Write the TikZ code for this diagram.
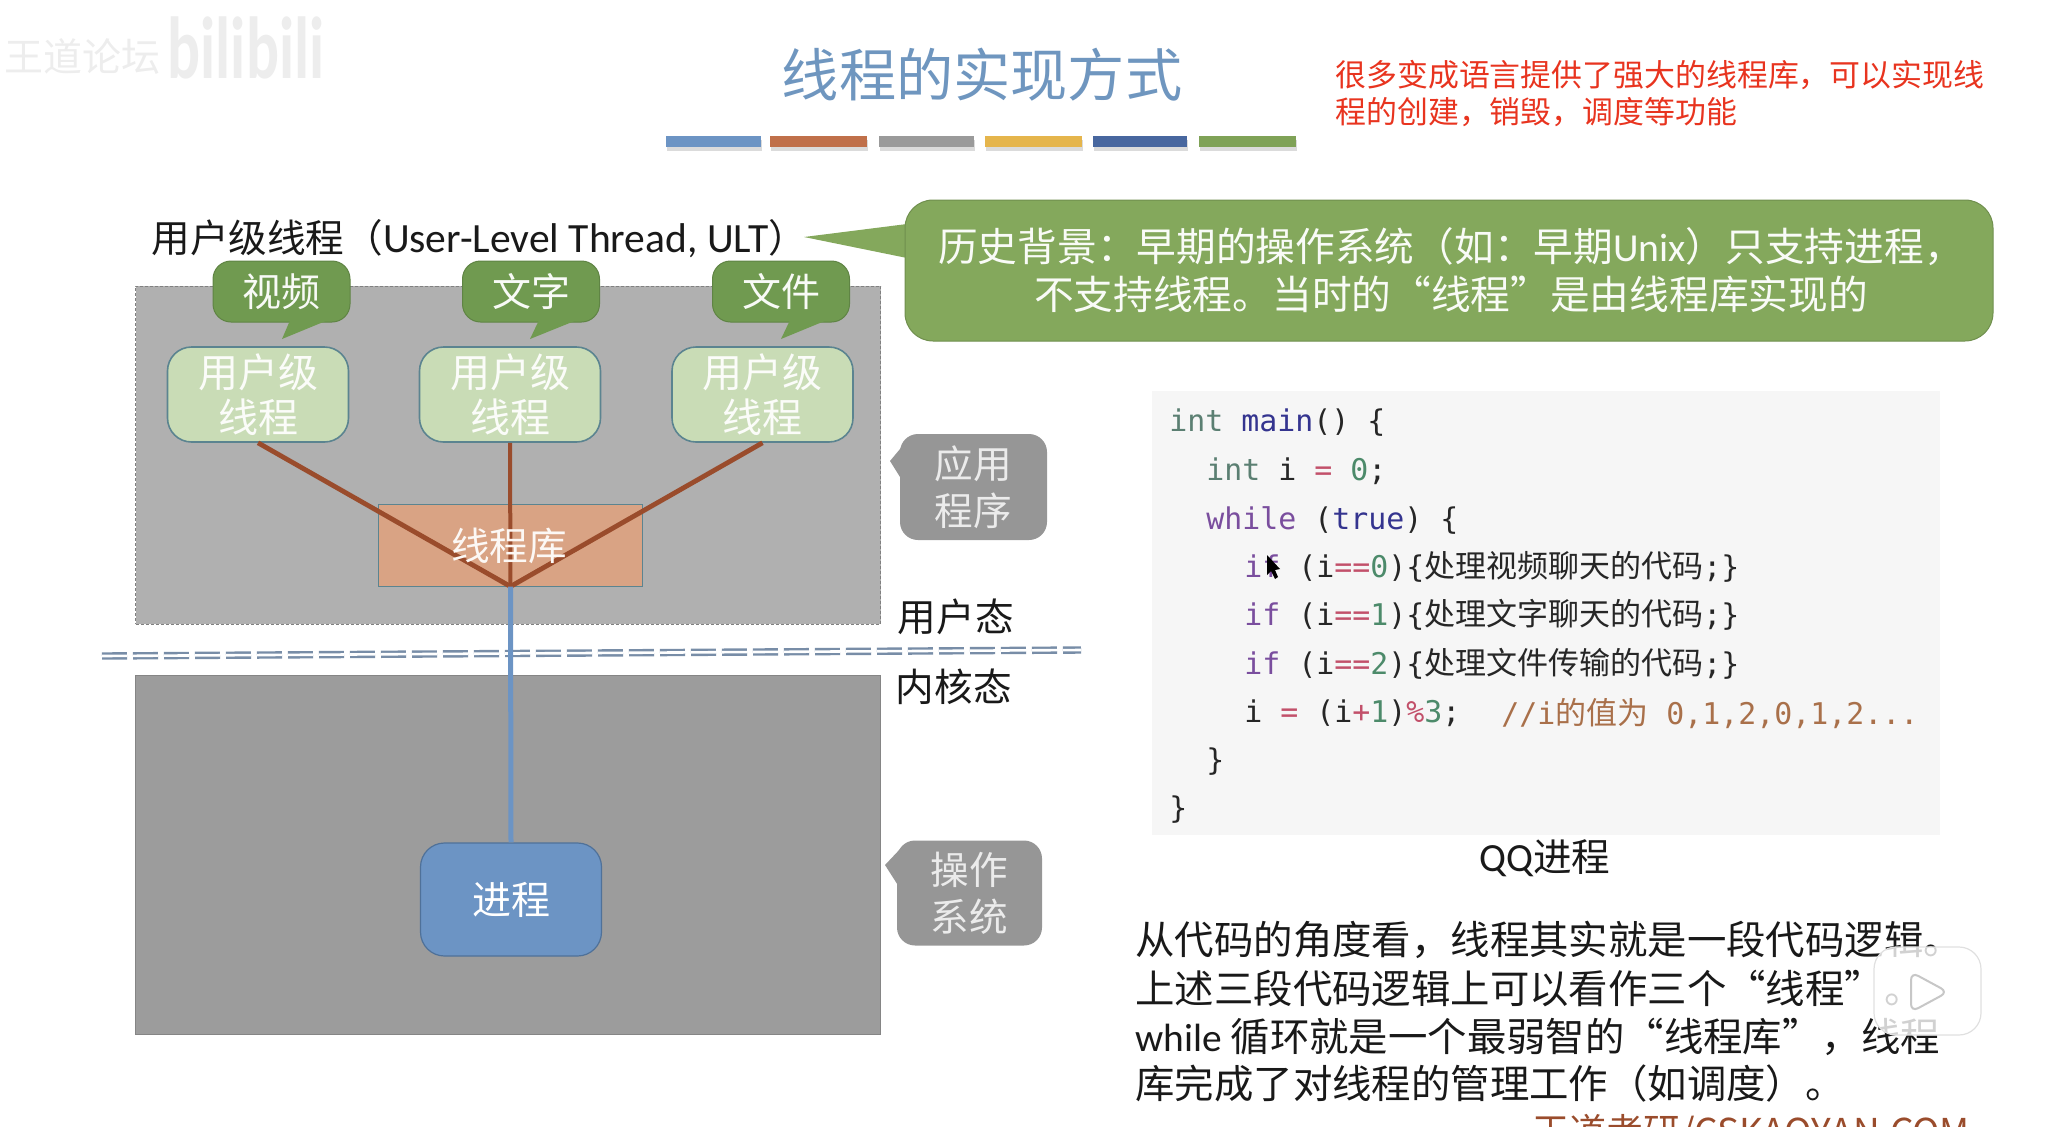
\documentclass[tikz,border=0pt]{standalone}
\usepackage{fontspec}
\usepackage{xcolor}
\setmainfont{Noto Sans CJK SC}
\newfontfamily\latfont{Carlito}
\newfontfamily\codefont{DejaVu Sans Mono}
\newfontfamily\zhfont{Noto Sans CJK SC}
\newcommand{\lat}[1]{{\latfont #1}}
\newcommand{\zh}[1]{{\zhfont\fontsize{15.5}{17}\selectfont #1}}
\definecolor{titleblue}{HTML}{6F96BF}
\definecolor{notered}{HTML}{E8341F}
\definecolor{tagfill}{HTML}{709A50}
\definecolor{tagedge}{HTML}{5F8444}
\definecolor{histfill}{HTML}{84A85C}
\definecolor{ultfill}{HTML}{C9DCB6}
\definecolor{ultedge}{HTML}{5B8490}
\definecolor{libfill}{HTML}{D9A384}
\definecolor{linkbrown}{HTML}{9A4C2C}
\definecolor{linkblue}{HTML}{6C94C4}
\definecolor{procedge}{HTML}{4F7199}
\definecolor{codepurple}{HTML}{7A4E9E}
\definecolor{codeblue}{HTML}{34348F}
\definecolor{codegreen}{HTML}{4C8A6A}
\definecolor{codered}{HTML}{C2506A}
\definecolor{codebrown}{HTML}{A9704A}
\definecolor{codetype}{HTML}{5B7F72}
\newcommand{\kw}[1]{\textcolor{codepurple}{#1}}
\newcommand{\ty}[1]{\textcolor{codetype}{#1}}
\newcommand{\nm}[1]{\textcolor{codegreen}{#1}}
\newcommand{\op}[1]{\textcolor{codered}{#1}}
\tikzset{
  ultbox/.style={draw=ultedge, line width=0.8pt, fill=ultfill, rounded corners=12pt, inner sep=0pt,
    minimum width=90.5pt, minimum height=47.5pt, align=center, text=white!92!ultfill,
    font=\fontsize{20}{22.3}\selectfont},
  tagbox/.style={draw=tagedge, line width=0.5pt, fill=tagfill, rounded corners=9pt, inner sep=0pt,
    minimum width=68.5pt, minimum height=30.5pt, text=white!95!tagfill,
    font=\fontsize{19.5}{22}\selectfont},
  greybox/.style={fill=black!41, rounded corners=9pt, inner sep=0pt, align=center,
    text=white!92!black, font=\fontsize{19.3}{23.5}\selectfont},
  plaintext/.style={inner sep=0pt, text=black!90, font=\fontsize{19.3}{23}\selectfont},
  codeline/.style={anchor=west, inner sep=0pt, text=black!85, font=\codefont\fontsize{14.95}{17}\selectfont},
  paraline/.style={anchor=west, inner sep=0pt, text=black!90, font=\fontsize{19.7}{23}\selectfont},
  linkline/.style={linkbrown, line width=2.4pt},
  sepline/.style={draw=black!30!linkblue!75, double=white, line width=1.2pt, double distance=1.3pt, dash pattern=on 12.5pt off 3pt}
}
\begin{document}
\begin{tikzpicture}[x=0.5pt, y=-0.5pt]
        \useasboundingbox (0,0) rectangle (2046,1126);
        \clip (0,0) rectangle (2046,1126);

        % Faint marks in the top corner
        \node[inner sep=0pt, text=black!7, font=\fontsize{19.5}{22}\selectfont] (forum) at (82,57) {王道论坛};
        \node[inner sep=0pt, text=black!7, font=\latfont\bfseries\fontsize{44}{44}\selectfont] (site) at (246,48) {\scalebox{0.7}[1]{bilibili}};

        % Title and the colour bars under it
        \node[inner sep=0pt, text=titleblue, font=\fontsize{28.6}{32}\selectfont] (title) at (982,75) {线程的实现方式};
        \foreach \xa/\xb/\barcol in {666/761/6C94C4, 770/867/C0704A, 879/974/9A9A9A, 985/1082/E5B54C, 1093/1187/48679F, 1199/1296/7FA257} {
            \definecolor{barcol}{HTML}{\barcol}
            \fill[black!14] (\xa+1,140) rectangle (\xb+1,151);
            \fill[barcol] (\xa,136) rectangle (\xb,147);
        }

        % Red remark
        \node[anchor=west, inner sep=0pt, align=left, text=notered, font=\fontsize{15.45}{18.5}\selectfont] (remark) at (1335,93.5)
            {很多变成语言提供了强大的线程库，可以实现线\\程的创建，销毁，调度等功能};

        % History callout
        \fill[histfill] (907,224) -- (804,237) -- (907,258) -- cycle;
        \node[fill=histfill, draw=histfill!85!black, line width=0.5pt, rounded corners=14pt, minimum width=544pt, minimum height=70.5pt,
            inner sep=0pt, align=center, text=white!95!histfill, font=\fontsize{19.85}{24}\selectfont] (history) at (1449,270.5)
            {\hspace*{2pt}历史背景：早期的操作系统（如：早期\lat{Unix}）只支持进程，\\\hspace*{2pt}不支持线程。当时的“线程”是由线程库实现的};

        % User space
        \node[draw=black!50, dash pattern=on 1.5pt off 1pt, line width=0.5pt, fill=black!31, minimum width=372.5pt, minimum height=169pt, inner sep=0pt] (userspace) at (508,455) {};
        \node[plaintext, anchor=west] (ulttitle) at (151,239) {用户级线程（\lat{\fontsize{20.8}{22}\selectfont User-Level Thread, ULT}）};

        \node[ultbox] (ult1) at (258,394.5) {用户级\\线程};
        \node[ultbox] (ult2) at (510,394.5) {用户级\\线程};
        \node[ultbox] (ult3) at (762.5,394.5) {用户级\\线程};

        \node[tagbox] (tag1) at (281.5,291.5) {视频};
        \node[tagbox] (tag2) at (531,291.5) {文字};
        \node[tagbox] (tag3) at (781,291.5) {文件};
        \fill[tagfill] (291,318) -- (282,339) -- (333,318) -- cycle;
        \fill[tagfill] (540,318) -- (530,339) -- (582,318) -- cycle;
        \fill[tagfill] (791,318) -- (781,339) -- (832,318) -- cycle;

        \node[draw=ultedge, line width=0.5pt, fill=libfill, minimum width=132pt, minimum height=41pt, inner sep=0pt] (lib) at (510.5,545) {};

        % Kernel space
        \node[draw=black!48, line width=0.5pt, fill=black!39, minimum width=372.5pt, minimum height=179.5pt, inner sep=0pt] (kernelspace) at (508,854.5) {};
        \node[draw=procedge, line width=0.6pt, fill=linkblue, rounded corners=12pt, minimum width=90.5pt, minimum height=56.5pt, inner sep=0pt,
            text=white, font=\fontsize{19.5}{22}\selectfont] (proc) at (511,899.5) {进程};

        % Boundary between the two spaces
        \coordinate (sepl) at (102,656);
        \coordinate (sepr) at (1081,650);
        \draw[sepline] (sepl) -- (sepr);
        \node[plaintext, anchor=west] (usermode) at (897.5,617) {用户态};
        \node[plaintext, anchor=west] (kernelmode) at (895.5,687) {内核态};

        % Connections
        \draw[linkline] (ult1.south) -- (lib.south);
        \draw[linkline, line width=2pt] (ult2.south) -- (lib.south);
        \draw[linkline] (ult3.south) -- (lib.south);
        \draw[linkblue, line width=2.5pt] (lib.south) -- (proc.north);
        \node[inner sep=0pt, text=white!92!libfill, font=\fontsize{19.3}{22}\selectfont] (libtext) at (509,546) {线程库};

        % Grey callouts on the right of the spaces
        \node[greybox, minimum width=73.5pt, minimum height=53pt] (app) at (973.5,487) {应用\\程序};
        \fill[black!41] (905,443) -- (890,461) -- (905,485) -- cycle;
        \node[greybox, minimum width=72.5pt, minimum height=52.5pt] (os) at (969.5,893) {操作\\系统};
        \fill[black!41] (901,848) -- (885,865) -- (901,890) -- cycle;

        % Code block
        \node[fill=black!3.5, minimum width=394pt, minimum height=222pt, inner sep=0pt] (codebg) at (1545.5,613) {};
        \node[codeline] (code1) at (1169,423) {\ty{int} \textcolor{codeblue}{main}() \{};
        \node[codeline] (code2) at (1206,471) {\ty{int} i \op{=} \nm{0};};
        \node[codeline] (code3) at (1206,520) {\kw{while} (\textcolor{codeblue}{true}) \{};
        \node[codeline] (code4) at (1244,567) {\kw{if} (i\op{==}\nm{0})\{\zh{处理视频聊天的代码};\}};
        \node[codeline] (code5) at (1244,615) {\kw{if} (i\op{==}\nm{1})\{\zh{处理文字聊天的代码};\}};
        \node[codeline] (code6) at (1244,664) {\kw{if} (i\op{==}\nm{2})\{\zh{处理文件传输的代码};\}};
        \node[codeline] (code7) at (1244,713) {i \op{=} (i\op{+}\nm{1})\op{\%}\nm{3};};
        \node[codeline, text=codebrown] (comment) at (1501,713) {//i\zh{的值为} 0,1,2,0,1,2...};
        \node[codeline] (code8) at (1206,762) {\}};
        \node[codeline] (code9) at (1169,810) {\}};
        % mouse pointer
        \fill[black] (1267,555) -- (1267,575) -- (1271,571) -- (1275,579) -- (1278,577) -- (1275,570) -- (1280,569) -- cycle;

        \node[plaintext] (qqlabel) at (1545,858) {\lat{\fontsize{20}{22}\selectfont QQ}进程};

        % Paragraph under the code
        \node[paraline] (para1) at (1135,940) {从代码的角度看，线程其实就是一段代码逻辑。};
        \node[paraline] (para2) at (1135,988.5) {上述三段代码逻辑上可以看作三个“线程”。};
        \node[paraline] (para3) at (1135,1037) {\lat{while} 循环就是一个最弱智的“线程库”，线程};
        \node[paraline] (para4) at (1135,1084) {库完成了对线程的管理工作（如调度）。};
        \node[anchor=north west, inner sep=0pt, text=linkbrown, font=\fontsize{18.5}{20}\selectfont] (site2) at (1532,1114) {王道考研/CSKAOYAN.COM};

        % Play button on top of the text
        \node[draw=black!12, line width=0.6pt, fill=white, fill opacity=0.8, rounded corners=11pt, minimum width=53.5pt, minimum height=44pt, inner sep=0pt] (playbox) at (1927.5,991) {};
        \draw[fill=white, draw=black!22, line width=1pt, rounded corners=4pt] (1911,972) -- (1948,992) -- (1911,1012) -- cycle;
\end{tikzpicture}
\end{document}
